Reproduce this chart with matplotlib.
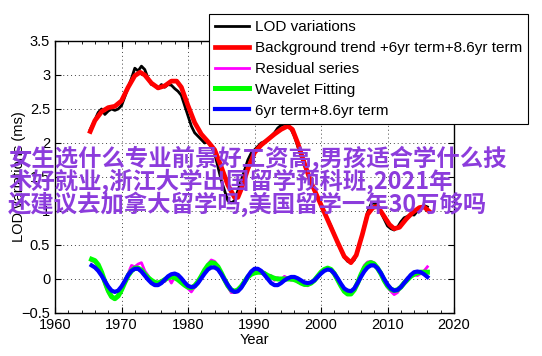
import matplotlib
matplotlib.use("Agg")
import matplotlib.pyplot as plt
from matplotlib.ticker import MultipleLocator
import numpy as np

# ---------------- data ----------------
lod_years = [1965.3, 1965.5, 1966, 1966.5, 1967, 1967.5, 1968, 1968.5, 1969, 1969.5,
             1970, 1970.5, 1971, 1971.5, 1972, 1972.5, 1973, 1973.5, 1974, 1974.5,
             1975, 1975.5, 1976, 1976.5, 1977, 1977.5, 1978, 1978.5, 1979, 1979.5,
             1980, 1980.5, 1981, 1981.5, 1982, 1982.5, 1983, 1983.5, 1984, 1984.5,
             1985, 1985.5, 1986, 1986.5, 1987, 1987.5, 1988, 1988.5, 1989, 1989.5,
             1990, 1990.5, 1991, 1991.5, 1992, 1992.5, 1993, 1993.5, 1994, 1994.5,
             1995, 1995.5, 1996, 1996.5, 1997, 1997.5, 1998, 1998.5, 1999, 1999.5,
             2000, 2000.5, 2001, 2001.5, 2002, 2002.5, 2003, 2003.5, 2004, 2004.5,
             2005, 2005.5, 2006, 2006.5, 2007, 2007.5, 2008, 2008.5, 2009, 2009.5,
             2010, 2010.5, 2011, 2011.5, 2012, 2012.5, 2013, 2013.5, 2014, 2014.5,
             2015, 2015.5, 2016]
lod_values = [2.20, 2.24, 2.34, 2.45, 2.50, 2.42, 2.47, 2.50, 2.48, 2.50,
              2.55, 2.68, 2.82, 2.95, 3.10, 3.06, 3.13, 3.08, 2.95, 2.86,
              2.85, 2.80, 2.86, 2.82, 2.86, 2.85, 2.80, 2.76, 2.70, 2.55,
              2.40, 2.25, 2.15, 2.10, 2.05, 2.00, 2.02, 1.95, 1.85, 1.65,
              1.45, 1.30, 1.15, 1.12, 1.15, 1.30, 1.45, 1.60, 1.75, 1.85,
              1.90, 1.95, 2.00, 2.02, 2.05, 2.10, 2.15, 2.22, 2.26, 2.28,
              2.27, 2.20, 2.10, 1.95, 1.80, 1.68, 1.55, 1.42, 1.30, 1.20,
              1.10, 0.98, 0.88, 0.78, 0.66, 0.54, 0.42, 0.32, 0.26, 0.24,
              0.28, 0.40, 0.58, 0.78, 0.98, 1.10, 1.12, 1.08, 0.98, 0.88,
              0.78, 0.74, 0.72, 0.76, 0.84, 0.90, 0.92, 0.95, 0.94, 1.00,
              1.05, 1.08, 1.06]

trend_years = [1965.3, 1966, 1967, 1968, 1969, 1970, 1971, 1972, 1972.8, 1973.5,
               1974.5, 1975.5, 1976.5, 1977.5, 1978.3, 1979, 1980, 1981, 1982, 1983,
               1984, 1985, 1986, 1987, 1987.5, 1988, 1989, 1990, 1991, 1992,
               1993, 1994, 1995, 1995.7, 1996.5, 1997.5, 1998.5, 1999.5, 2000.5, 2001.5,
               2002.5, 2003.5, 2004.5, 2005.3, 2006.2, 2007, 2007.8, 2008.5, 2009.3, 2010.3,
               2011, 2011.8, 2012.8, 2013.8, 2014.8, 2015.5, 2016.2]
trend_values = [2.17, 2.33, 2.46, 2.52, 2.54, 2.62, 2.82, 2.99, 3.04, 3.00,
                2.88, 2.81, 2.84, 2.91, 2.91, 2.82, 2.55, 2.30, 2.13, 2.02,
                1.90, 1.65, 1.38, 1.20, 1.20, 1.32, 1.62, 1.86, 1.97, 2.05,
                2.13, 2.20, 2.25, 2.20, 2.00, 1.70, 1.42, 1.20, 0.98, 0.76,
                0.54, 0.33, 0.24, 0.35, 0.65, 0.95, 1.05, 1.07, 0.95, 0.80,
                0.74, 0.76, 0.88, 0.98, 1.05, 1.06, 1.00]

osc_years = [1965.5 + 0.5 * i for i in range(102)]

residual_values = [0.27, 0.25, 0.19, 0.08, -0.08, -0.20, -0.27, -0.30, -0.24, -0.12,
                   -0.04, 0.08, 0.20, 0.18, 0.22, 0.24, 0.12, 0.05, -0.03, -0.06,
                   -0.08, -0.02, -0.04, 0.03, -0.06, 0.03, -0.02, -0.06, -0.10, -0.14,
                   -0.19, -0.12, -0.03, 0.06, 0.12, 0.22, 0.28, 0.26, 0.19, 0.08,
                   -0.03, -0.12, -0.20, -0.20, -0.19, -0.10, -0.03, 0.05, 0.08, 0.10,
                   0.11, 0.08, 0.10, 0.04, 0.05, -0.02, 0.02, -0.01, 0.04, 0.01,
                   -0.02, 0.02, -0.05, -0.04, -0.09, -0.10, -0.06, -0.03, 0.05, 0.09,
                   0.12, 0.15, 0.13, 0.06, -0.03, -0.12, -0.19, -0.23, -0.21, -0.14,
                   -0.04, 0.08, 0.20, 0.25, 0.26, 0.24, 0.14, 0.06, -0.04, -0.12,
                   -0.18, -0.23, -0.20, -0.12, -0.04, 0.02, 0.04, 0.06, 0.05, 0.08,
                   0.12, 0.18]

wavelet_values = [0.29, 0.27, 0.21, 0.10, -0.04, -0.17, -0.26, -0.29, -0.25, -0.16,
                  -0.05, 0.05, 0.12, 0.16, 0.16, 0.13, 0.07, 0.02, -0.02, -0.05,
                  -0.06, -0.04, -0.01, 0.02, 0.03, 0.02, -0.01, -0.05, -0.09, -0.12,
                  -0.13, -0.10, -0.04, 0.04, 0.13, 0.20, 0.24, 0.23, 0.18, 0.09,
                  -0.01, -0.10, -0.16, -0.18, -0.16, -0.11, -0.04, 0.03, 0.07, 0.09,
                  0.10, 0.10, 0.08, 0.05, 0.03, 0.01, 0.00, 0.00, 0.00, 0.00,
                  0.00, -0.01, -0.03, -0.06, -0.08, -0.08, -0.06, -0.02, 0.04, 0.10,
                  0.14, 0.16, 0.14, 0.08, -0.01, -0.10, -0.18, -0.22, -0.22, -0.16,
                  -0.06, 0.06, 0.16, 0.22, 0.24, 0.22, 0.16, 0.08, -0.02, -0.10,
                  -0.15, -0.17, -0.16, -0.12, -0.06, -0.01, 0.04, 0.07, 0.09, 0.10,
                  0.10, 0.10]

term_values = [0.20, 0.17, 0.12, 0.05, -0.03, -0.11, -0.17, -0.19, -0.17, -0.11,
               -0.03, 0.06, 0.12, 0.15, 0.15, 0.11, 0.05, -0.01, -0.06, -0.09,
               -0.09, -0.06, -0.01, 0.04, 0.07, 0.08, 0.06, 0.01, -0.05, -0.10,
               -0.12, -0.11, -0.06, 0.01, 0.08, 0.14, 0.17, 0.17, 0.14, 0.07,
               -0.01, -0.09, -0.16, -0.19, -0.18, -0.13, -0.05, 0.04, 0.11, 0.15,
               0.15, 0.12, 0.06, 0.00, -0.06, -0.09, -0.09, -0.06, -0.02, 0.01,
               0.03, 0.03, 0.01, -0.02, -0.05, -0.06, -0.05, -0.02, 0.03, 0.08,
               0.12, 0.14, 0.13, 0.08, 0.01, -0.07, -0.14, -0.17, -0.18, -0.14,
               -0.06, 0.03, 0.11, 0.17, 0.20, 0.20, 0.16, 0.09, 0.00, -0.08,
               -0.14, -0.17, -0.16, -0.12, -0.06, 0.00, 0.06, 0.10, 0.11, 0.10,
               0.07, 0.03]

legend_labels = ["LOD variations", "Background trend +6yr term+8.6yr term",
                 "Residual series", "Wavelet Fitting", "6yr term+8.6yr term"]
x_ticks = [1960, 1970, 1980, 1990, 2000, 2010, 2020]
y_ticks = [-0.5, 0, 0.5, 1, 1.5, 2, 2.5, 3, 3.5]
y_tick_labels = ['\u22120.5', '0', '0.5', '1', '1.5', '2', '2.5', '3', '3.5']
overlay_lines = ["女生选什么专业前景好工资高,男孩适合学什么技",
                 "术好就业,浙江大学出国留学预科班,2021年",
                 "还建议去加拿大留学吗,美国留学一年30万够吗"]

# ---------------- figure ----------------
plt.rcParams['font.family'] = ['Liberation Sans', 'DejaVu Sans']
W, H = 542, 356
fig = plt.figure(figsize=(W / 100, H / 100), dpi=100)
ax = fig.add_axes([55 / W, 1 - 313 / H, (454 - 55) / W, (313 - 41) / H])

l1, = ax.plot(lod_years, lod_values, color='black', lw=2.0)
l2, = ax.plot(trend_years, trend_values, color='#ff0000', lw=3.4)
l3, = ax.plot(osc_years, residual_values, color='#ff00ff', lw=2.0)
l4, = ax.plot(osc_years, wavelet_values, color='#00ff00', lw=3.6)
l5, = ax.plot(osc_years, term_values, color='#0000ff', lw=3.0)

ax.set_xlim(1960, 2020)
ax.set_ylim(-0.5, 3.5)
ax.set_xticks(x_ticks)
ax.set_yticks(y_ticks)
ax.set_yticklabels(y_tick_labels)
ax.xaxis.set_minor_locator(MultipleLocator(2))
ax.tick_params(which='major', direction='in', length=4, top=True, right=True,
               labelsize=10.5, width=0.8)
ax.tick_params(which='minor', direction='in', length=2, top=True, right=True, width=0.6)
ax.grid(True, which='major', linestyle=(0, (1, 3)), color='#444444', lw=0.7)
for s in ax.spines.values():
    s.set_linewidth(1.0)
ax.set_xlabel('Year', fontsize=10.5, labelpad=1)
ax.set_ylabel('LOD variations (ms)', fontsize=10.5)
ax.yaxis.set_label_coords(-0.073, 0.5)

leg = fig.legend([l1, l2, l3, l4, l5], legend_labels, loc='upper right',
                 bbox_to_anchor=(528 / W, 1 - 14 / H), fontsize=11,
                 frameon=True, fancybox=False, edgecolor='black', framealpha=1,
                 handlelength=2.2, handletextpad=0.4, labelspacing=0.45,
                 borderpad=0.4, borderaxespad=0)
leg.get_frame().set_linewidth(0.8)

for i, line in enumerate(overlay_lines):
    fig.text(8 / W, 1 - (158 + 23 * i) / H, line, fontsize=16.8, color='#8c3cdc',
             family=['Noto Sans CJK SC', 'DejaVu Sans'], fontweight='bold',
             va='center', ha='left')

fig.savefig('out.png', dpi=100)
